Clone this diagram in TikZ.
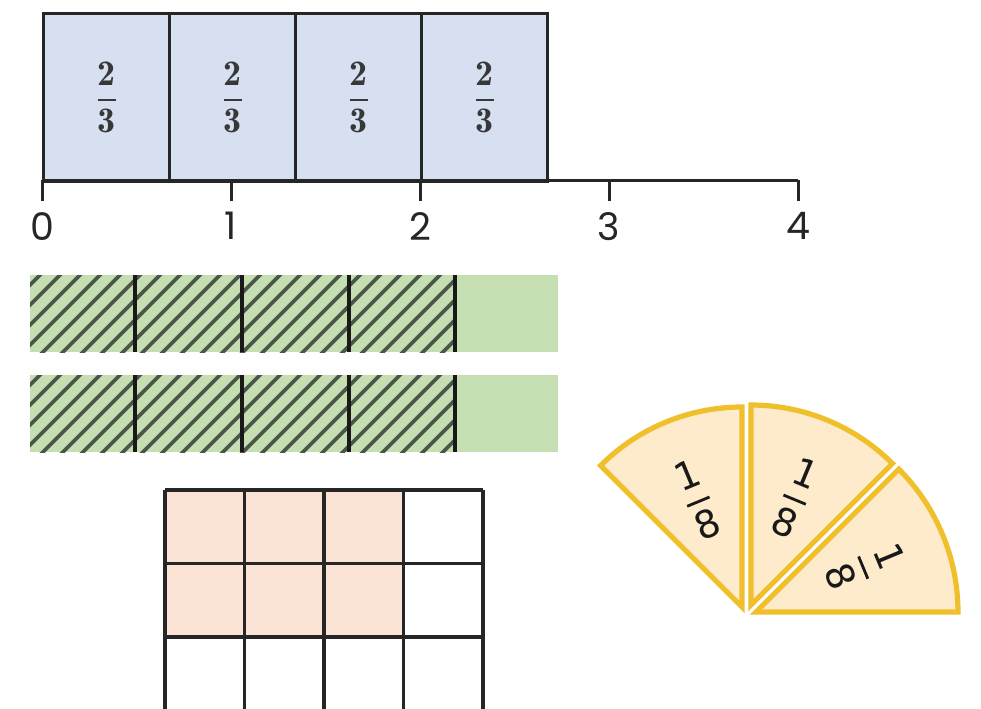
\documentclass[tikz,border=0pt]{standalone}
\usepackage{amsmath}
\usepackage{fontspec}
\newfontfamily\numfont{Poppins}
\newfontfamily\piefont{DejaVu Sans}
\usetikzlibrary{calc}
\definecolor{thirdblue}{HTML}{D7E0F1}
\definecolor{fifthgreen}{HTML}{C5DFB2}
\definecolor{hatchgray}{HTML}{4C5648}
\definecolor{cellpeach}{HTML}{FBE4D6}
\definecolor{piegold}{HTML}{F0BF2C}
\definecolor{piefill}{HTML}{FDEBCB}
\newcommand{\twothirds}{$\displaystyle\genfrac{}{}{1.3pt}{0}{\mathbf{2}}{\mathbf{3}}$}
\newcommand{\oneeighth}{$\genfrac{}{}{1.4pt}{0}{\hbox{1}}{\hbox{8}}$}
\tikzset{THIRD/.style={rectangle,draw=black!85,line width=1.5pt,fill=thirdblue,inner sep=0pt,minimum width=63pt,minimum height=84pt,anchor=north west,text=black!78,font=\fontsize{18}{20}\selectfont}}
\tikzset{AXIS/.style={draw=black!85,line width=1.5pt}}
\tikzset{TICKLABEL/.style={font=\numfont\fontsize{19}{20}\selectfont,text=black!85,inner sep=0pt}}
\tikzset{HATCH/.style={draw=hatchgray,line width=1.9pt}}
\tikzset{DIVIDER/.style={draw=black!90,line width=2pt}}
\tikzset{CELL/.style={draw=black!85,line width=1.6pt}}
\tikzset{SECTOR/.style={draw=piegold,line width=2.6pt,fill=piefill,line join=miter}}
\tikzset{EIGHTH/.style={font=\piefont\fontsize{19}{19}\selectfont,inner sep=0pt,text=black!90}}

\begin{document}
\begin{tikzpicture}[x=0.5pt,y=-0.5pt]
\useasboundingbox (0,0) rectangle (981,708);

% bar of four thirds sitting on the number line
\foreach \i in {0,...,3}{
  \node[THIRD] (n_third\i) at ({42+126*\i},12) {\twothirds};
}
\coordinate (c_zero) at (42,180);
\coordinate (c_four) at (798,180);
\draw[AXIS] (c_zero) -- (c_four);
\foreach \k in {0,...,4}{
  \coordinate (c_tick\k) at ({42+189*\k},180);
  \draw[AXIS] (c_tick\k) -- ++(0,21) node[TICKLABEL,below=5pt] (n_tick\k) {\k};
}

% two bars of fifths, four of them hatched
\foreach \r/\y in {1/275,2/375}{
  \fill[fifthgreen] (30,\y) rectangle (558,\y+77);
  \begin{scope}
    \clip (30,\y) rectangle (455,\y+77);
    \foreach \h in {-90,-70,...,460}
      \draw[HATCH] (30+\h,\y+80) -- ++(83,-83);
  \end{scope}
  \foreach \d in {135,242,349,455}
    \draw[DIVIDER] (\d,\y) -- (\d,\y+77);
}

% grid of twelve cells, six shaded
\fill[cellpeach] (165,490) rectangle (403.5,637);
\foreach \i in {0,...,4}
  \draw[CELL] ({165+79.5*\i},490) -- ({165+79.5*\i},715);
\foreach \j in {0,...,3}
  \draw[CELL] (165,{490+73.5*\j}) -- (483,{490+73.5*\j});

% three eighths of a circle, pulled apart
\coordinate (c_apexA) at (742,607);
\coordinate (c_apexB) at (751,605);
\coordinate (c_apexC) at (756,612);
\draw[SECTOR] (c_apexA) -- ++(-90:200) arc[start angle=-90,end angle=-135,radius=200] -- cycle;
\draw[SECTOR] (c_apexB) -- ++(-90:200) arc[start angle=-90,end angle=-45,radius=200] -- cycle;
\draw[SECTOR] (c_apexC) -- ++(-45:202) arc[start angle=-45,end angle=0,radius=202] -- cycle;
\node[EIGHTH,rotate=22.5] (n_eighthA) at ($(c_apexA)+(-112.5:116)$) {\oneeighth};
\node[EIGHTH,rotate=-22.5] (n_eighthB) at ($(c_apexB)+(-67.5:116)$) {\oneeighth};
\node[EIGHTH,rotate=-67.5] (n_eighthC) at ($(c_apexC)+(-22.5:118)$) {\oneeighth};

\end{tikzpicture}
\end{document}
